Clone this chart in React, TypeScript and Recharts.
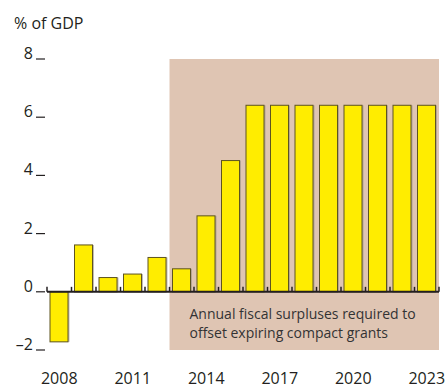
import React from 'react';
import { BarChart, Bar, XAxis, YAxis, ReferenceArea, ReferenceLine } from 'recharts';

const years = [2008, 2009, 2010, 2011, 2012, 2013, 2014, 2015, 2016, 2017, 2018, 2019, 2020, 2021, 2022, 2023];
const surplus = [-1.72, 1.61, 0.49, 0.61, 1.18, 0.79, 2.61, 4.51, 6.41, 6.41, 6.41, 6.41, 6.41, 6.41, 6.41, 6.41];
const yearTicks = [2008, 2011, 2014, 2017, 2020, 2023];
const valueTicks = [-2, 0, 2, 4, 6, 8];
const shadedFrom = 2012.5;
const shadedTo = 2023.5;
const note = ['Annual fiscal surpluses required to', 'offset expiring compact grants'];

const data = years.map((year, i) => ({ year, value: surplus[i] }));
const boundaries = [...years.map((y) => y - 0.5), years[years.length - 1] + 0.5];

const FONT = '"Open Sans", sans-serif';
const INK = '#231f20';

const BarShape = (props: any) => {
  const { x, y, width, height } = props;
  const top = Math.min(y, y + height);
  const h = Math.abs(height);
  return (
    <g>
      <rect x={x + 1.5} y={top} width={width} height={h} fill="#9a9080" opacity={0.6} />
      <rect x={x} y={top} width={width} height={h} fill="#ffed00" stroke="#5e5420" strokeWidth={1} />
    </g>
  );
};

const LeftTick = (props: any) => {
  const { x, y, payload } = props;
  const label = payload.value < 0 ? '\u2013' + Math.abs(payload.value) : String(payload.value);
  return (
    <g>
      <text x={x - 14} y={y} textAnchor="end" fontSize={16} fontFamily={FONT} fill={INK}>{label}</text>
      <line x1={x - 11} x2={x - 2} y1={y} y2={y} stroke={INK} strokeWidth={1.2} />
    </g>
  );
};

const RightTick = (props: any) => {
  const { x, y } = props;
  return <line x1={x + 3} x2={x + 6} y1={y} y2={y} stroke={INK} strokeWidth={1.2} />;
};

const NoteLabel = (props: any) => {
  const vb = props.viewBox;
  return (
    <text x={vb.x + 20} fontSize={14} fontFamily={FONT} fill="#333">
      <tspan x={vb.x + 20} y={vb.y + 27}>{note[0]}</tspan>
      <tspan x={vb.x + 20} y={vb.y + 46}>{note[1]}</tspan>
    </text>
  );
};

export default function App() {
  return (
    <div style={{ position: 'absolute', left: 0, top: 0, width: 445, height: 389, background: '#fff' }}>
      <div style={{ position: 'absolute', left: 14, top: 12, fontFamily: FONT, fontSize: 16, color: INK, lineHeight: '22px' }}>% of GDP</div>
      <BarChart width={445} height={389} data={data} margin={{ top: 59, right: 0, bottom: 0, left: 0 }}>
        <XAxis
          dataKey="year"
          type="number"
          domain={[2007.5, 2023.5]}
          ticks={yearTicks}
          axisLine={false}
          tickLine={false}
          height={39}
          tickMargin={17}
          tick={{ fontSize: 16, fontFamily: FONT, fill: INK }}
        />
        <YAxis
          yAxisId="l"
          domain={[-2, 8]}
          ticks={valueTicks}
          width={47}
          axisLine={false}
          tickLine={false}
          tickSize={0}
          tickMargin={0}
          tick={<LeftTick />}
        />
        <YAxis
          yAxisId="r"
          orientation="right"
          domain={[-2, 8]}
          ticks={valueTicks}
          width={6}
          axisLine={false}
          tickLine={false}
          tickSize={0}
          tickMargin={0}
          tick={<RightTick />}
        />
        <ReferenceArea yAxisId="l" x1={shadedFrom} x2={shadedTo} y1={-2} y2={8} fill="#dfc5b3" fillOpacity={1} stroke="none" />
        <ReferenceArea yAxisId="l" x1={shadedFrom} x2={shadedTo} y1={-2} y2={0} fill="none" stroke="none" label={<NoteLabel />} />
        <Bar yAxisId="l" dataKey="value" barSize={18} shape={<BarShape />} isAnimationActive={false} />
        <ReferenceLine yAxisId="l" y={0} stroke={INK} strokeWidth={2} />
        {boundaries.map((b) => (
          <ReferenceLine key={b} yAxisId="l" segment={[{ x: b, y: 0 }, { x: b, y: 0.17 }]} stroke={INK} strokeWidth={1.5} />
        ))}
      </BarChart>
    </div>
  );
}
